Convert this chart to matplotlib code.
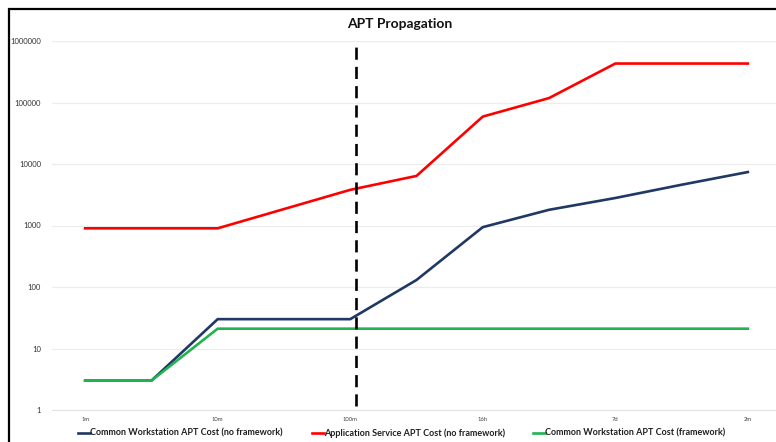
import matplotlib
matplotlib.use("Agg")
import matplotlib.pyplot as plt
from matplotlib.patches import Rectangle
from matplotlib.lines import Line2D
import numpy as np

plt.rcParams['font.family'] = ['Lato', 'DejaVu Sans']

# Time steps along the category axis (every other step is labelled)
steps = ["1m", "", "10m", "", "100m", "", "16h", "", "7d", "", "2m"]

workstation_no_fw = [3, 3, 30, 30, 30, 130, 940, 1800, 2800, 4600, 7400]
app_service_no_fw = [900, 900, 900, 1850, 3800, 6400, 59000, 118000, 430000, 430000, 430000]
workstation_fw = [3, 3, 21, 21, 21, 21, 21, 21, 21, 21, 21]

series_names = [
    "Common Workstation APT Cost (no framework)",
    "Application Service APT Cost (no framework)",
    "Common Workstation APT Cost (framework)",
]
series_colors = ["#1f3864", "#ff0000", "#21b352"]

framework_marker = 4.08  # position of the dashed divider on the category axis

W, H = 776, 442
fig = plt.figure(figsize=(W / 100, H / 100), dpi=100)
ax = fig.add_axes([52 / W, (H - 410) / H, 729 / W, 369 / H])

x = np.arange(len(steps))
for vals, name, col in zip([workstation_no_fw, app_service_no_fw, workstation_fw],
                           series_names, series_colors):
    ax.plot(x, vals, color=col, lw=1.9, label=name, solid_joinstyle="miter", zorder=3)

ax.axvline(framework_marker, ymin=0.012, ymax=0.99, color="black", lw=1.9,
           dashes=(4.6, 2.7), zorder=4)

ax.set_yscale("log")
ax.set_ylim(1, 1e6)
ax.set_xlim(-0.5, len(steps) - 0.5)
ax.set_yticks([10 ** k for k in range(7)])
ax.set_yticklabels([str(10 ** k) for k in range(7)])
ax.yaxis.set_minor_locator(matplotlib.ticker.NullLocator())
ax.set_xticks(x)
ax.set_xticklabels(steps)
ax.tick_params(axis="y", length=0, labelsize=5.5, colors="#333333", pad=8)
ax.tick_params(axis="x", length=0, labelsize=4.2, colors="#404040", pad=5)
ax.grid(axis="y", color="#ececec", lw=0.8)
ax.set_axisbelow(True)
for s in ["top", "right", "left"]:
    ax.spines[s].set_visible(False)
ax.spines["bottom"].set_color("#e4e4e4")
ax.spines["bottom"].set_linewidth(0.8)

fig.text(400 / W, 1 - 24 / H, "APT Propagation", ha="center", va="center",
         fontsize=10, fontweight="bold", color="#111111")

# Legend row: short line handle followed directly by its label
legend_starts = [78, 312, 533]
ly = 1 - 433 / H
for start, name, col in zip(legend_starts, series_names, series_colors):
    fig.add_artist(Line2D([start / W, (start + 12) / W], [ly, ly], color=col,
                          lw=1.9, transform=fig.transFigure))
    fig.text((start + 12) / W, ly, name, ha="left", va="center",
             fontsize=6.45, fontweight="bold", color="#1f1f1f")

# Outer chart frame
fig.patches.append(Rectangle((9 / W, -0.05), 1.1, 1 - 9 / H + 0.05,
                             transform=fig.transFigure, fill=False,
                             edgecolor="black", lw=1.6, zorder=10))

fig.savefig("out.png", dpi=100)
